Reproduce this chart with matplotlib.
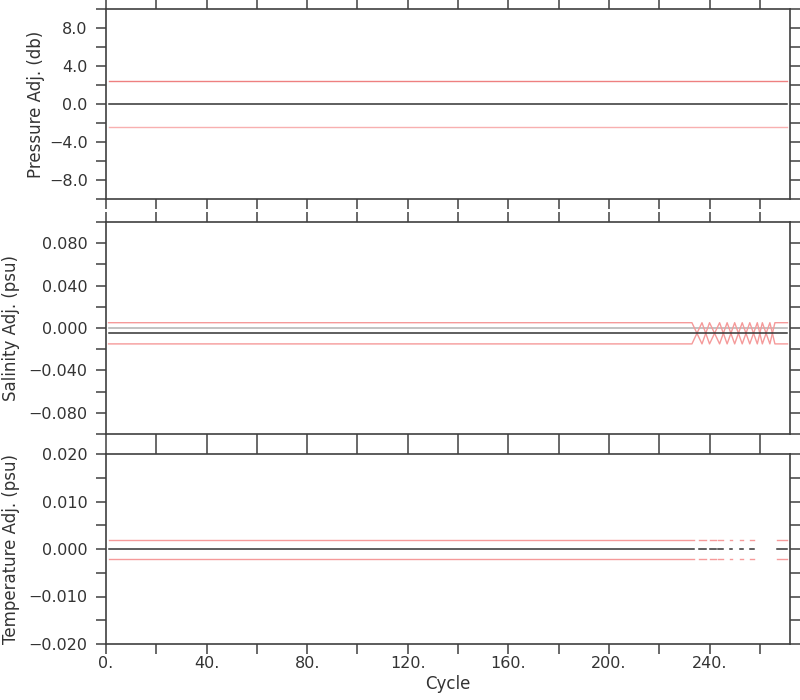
import numpy as np
import matplotlib
matplotlib.use("Agg")
import matplotlib.pyplot as plt
from matplotlib.ticker import MultipleLocator, FuncFormatter

# ---------------- data ----------------
pres_cycles = [1, 271]
pres_adj = [0.0, 0.0]
pres_err = [2.4, 2.4]

sal_cycles = [1, 229, 233, 237, 240, 244, 247, 250, 253, 256, 259, 261, 264, 266, 271]
sal_adj = [-0.005] * len(sal_cycles)
sal_zero = [0.0] * len(sal_cycles)
sal_upper = [0.005, 0.005, 0.005, -0.015, 0.005, -0.015, 0.005, -0.015,
             0.005, -0.015, 0.005, -0.015, 0.005, -0.015, -0.015]
sal_lower = [-0.015, -0.015, -0.015, 0.005, -0.015, 0.005, -0.015, 0.005,
             -0.015, 0.005, -0.015, 0.005, -0.015, 0.005, 0.005]

temp_segments = [(1, 234), (236, 238.5), (240, 242.5), (243.5, 245.5),
                 (248, 249), (252, 253.5), (256, 257.5), (267, 271)]
temp_adj_value = 0.0
temp_err_value = 0.002

# ---------------- styling ----------------
W, H = 800, 700
fig = plt.figure(figsize=(W / 100, H / 100), dpi=100)
TXT = "#333333"
SP = "#404040"
BLACK = "#333333"
RED_UP = "#ee8080"
RED_LO = "#f8b0b0"
RED = "#f59a9a"


def rect(top, bottom):
    return [106 / W, 1 - bottom / H, 684 / W, (bottom - top) / H]


def fmt_y(decimals, every):
    def f(v, pos):
        k = round(v / every, 6)
        if abs(k - round(k)) > 1e-6:
            return ""
        s = f"{abs(v):.{decimals}f}"
        return ("\u2212" + s) if v < -1e-12 else s
    return FuncFormatter(f)


def fmt_x(v, pos):
    if int(round(v)) % 40 != 0:
        return ""
    return f"{int(round(v))}."


def style(ax, ystep, ylim, decimals, label_every, show_x):
    ax.set_xlim(0, 272)
    ax.set_ylim(-ylim, ylim)
    ax.xaxis.set_major_locator(MultipleLocator(20))
    ax.yaxis.set_major_locator(MultipleLocator(ystep))
    ax.yaxis.set_major_formatter(fmt_y(decimals, label_every))
    if show_x:
        ax.xaxis.set_major_formatter(FuncFormatter(fmt_x))
    else:
        ax.xaxis.set_major_formatter(FuncFormatter(lambda v, p: ""))
    ax.tick_params(axis="both", which="major", direction="out", length=7.2,
                   width=1.1, color=SP, labelcolor=TXT, labelsize=11.5,
                   top=True, right=True)
    ax.tick_params(axis="y", pad=6)
    ax.tick_params(axis="x", pad=1.5)
    for s in ax.spines.values():
        s.set_color(SP)
        s.set_linewidth(1.2)


# Pressure
ax1 = fig.add_axes(rect(9, 199))
pc = np.array(pres_cycles, float)
pa = np.array(pres_adj)
pe = np.array(pres_err)
ax1.plot(pc, pa + pe, color=RED_UP, lw=1.0)
ax1.plot(pc, pa - pe, color=RED_LO, lw=1.0)
ax1.plot(pc, pa, color=BLACK, lw=1.1)
style(ax1, 2.0, 10.0, 1, 4.0, False)
ax1.set_ylabel("Pressure Adj. (db)", fontsize=12, color=TXT, labelpad=3)

# Salinity
ax2 = fig.add_axes(rect(222, 434))
ax2.plot(sal_cycles, sal_zero, color="#b8b8b8", lw=1.2)
ax2.plot(sal_cycles, sal_upper, color=RED, lw=1.0)
ax2.plot(sal_cycles, sal_lower, color=RED, lw=1.0)
ax2.plot(sal_cycles, sal_adj, color=BLACK, lw=1.1)
style(ax2, 0.02, 0.1, 3, 0.04, False)
ax2.set_ylabel("Salinity Adj. (psu)", fontsize=12, color=TXT, labelpad=6)

# Temperature
ax3 = fig.add_axes(rect(454, 644))
tx, ty = [], []
for a, b in temp_segments:
    tx += [a, b, np.nan]
    ty += [temp_adj_value, temp_adj_value, np.nan]
tx = np.array(tx, float)
ty = np.array(ty, float)
ax3.plot(tx, ty + temp_err_value, color=RED, lw=1.0)
ax3.plot(tx, ty - temp_err_value, color=RED, lw=1.0)
ax3.plot(tx, ty, color=BLACK, lw=1.1)
style(ax3, 0.005, 0.02, 3, 0.01, True)
ax3.set_ylabel("Temperature Adj. (psu)", fontsize=12, color=TXT, labelpad=6)
ax3.set_xlabel("Cycle", fontsize=12, color=TXT, labelpad=3)

fig.savefig("out.png", dpi=100)
